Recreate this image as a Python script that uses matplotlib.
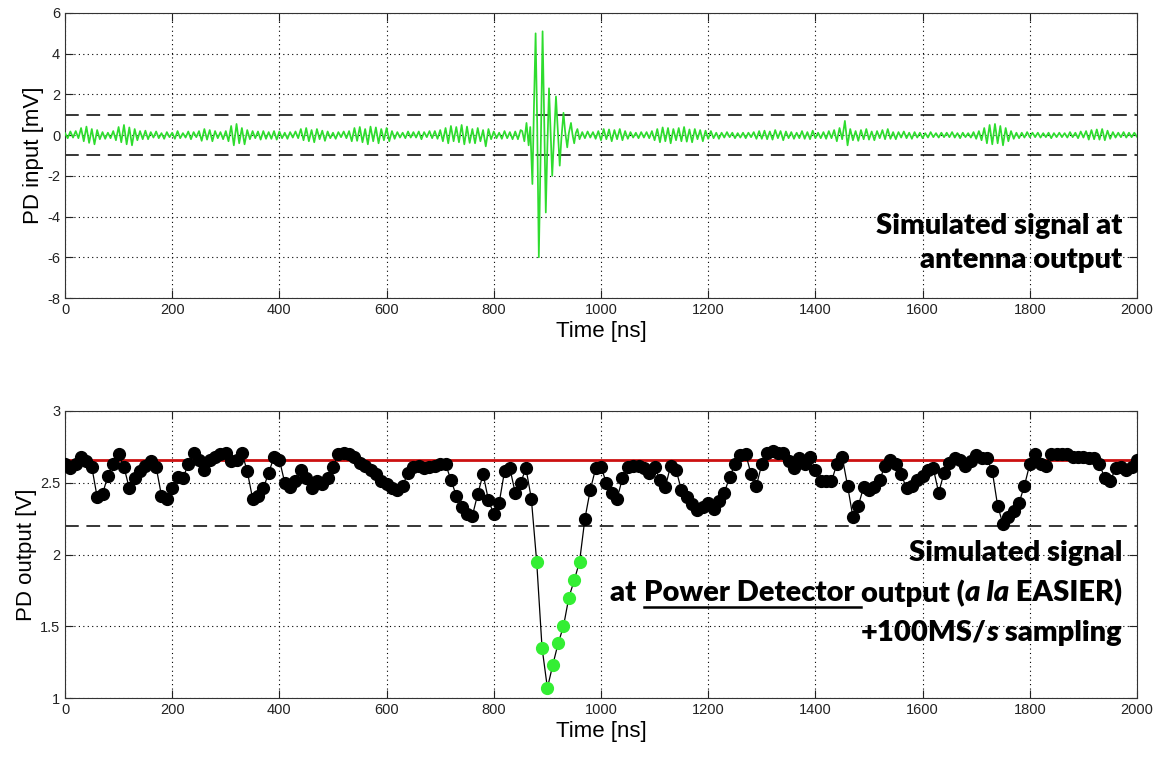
import matplotlib
matplotlib.use("Agg")
import matplotlib.pyplot as plt
from matplotlib.lines import Line2D
import numpy as np

plt.rcParams["axes.unicode_minus"] = False

# ---- top panel: simulated antenna signal (mV) ----
# background noise, 5 ns steps, 0..850 ns
noise_a = [0.1, -0.15, 0.18, -0.12, 0.2, -0.15, 0.35, -0.3, 0.42, -0.38,
           0.3, -0.45, 0.25, -0.2, 0.15, -0.18, 0.12, -0.15, 0.2, -0.25,
           0.4, -0.35, 0.5, -0.45, 0.38, -0.5, 0.3, -0.25, 0.2, -0.2,
           0.22, -0.2, 0.15, -0.12, 0.18, -0.15, 0.1, -0.18, 0.15, -0.1,
           0.12, -0.18, 0.2, -0.15, 0.1, -0.12, 0.18, -0.2, 0.15, -0.1,
           0.2, -0.28, 0.3, -0.22, 0.25, -0.3, 0.2, -0.15, 0.15, -0.2,
           0.2, -0.3, 0.45, -0.5, 0.55, -0.4, 0.35, -0.45, 0.25, -0.2,
           0.2, -0.15, 0.18, -0.22, 0.2, -0.18, 0.15, -0.18, 0.2, -0.22,
           0.18, -0.15, 0.12, -0.18, 0.15, -0.12, 0.18, -0.15, 0.3, -0.25,
           0.35, -0.3, 0.25, -0.35, 0.3, -0.2, 0.22, -0.28, 0.18, -0.15,
           0.12, -0.18, 0.15, -0.1, 0.18, -0.15, 0.2, -0.3, 0.35, -0.28,
           0.4, -0.35, 0.3, -0.45, 0.42, -0.3, 0.38, -0.4, 0.3, -0.25,
           0.35, -0.3, 0.2, -0.18, 0.15, -0.12, 0.12, -0.15, 0.18, -0.12,
           0.15, -0.12, 0.18, -0.2, 0.15, -0.1, 0.2, -0.15, 0.2, -0.18,
           0.25, -0.3, 0.35, -0.4, 0.45, -0.3, 0.4, -0.35, 0.5, -0.45,
           0.42, -0.38, 0.3, -0.4, 0.35, -0.3, 0.25, -0.55, 0.3, -0.2,
           0.18, -0.15, 0.12, -0.18, 0.2, -0.15, 0.15, -0.2, 0.18, -0.2,
           0.25]
# the pulse
burst_ns = [853, 857, 861, 865, 868, 872, 875, 878, 881, 884, 888, 891, 894,
            897, 900, 903, 906, 909, 912, 916, 919, 923, 926, 930, 933, 937,
            940, 944, 947, 950, 953, 956, 960]
burst_mv = [0.2, -0.3, 0.6, -0.5, 0.4, -2.4, 1.5, 5.0, 0.5, -6.0, 0.0, 5.1, 0.8,
            -3.8, -0.5, 2.3, 0.2, -2.0, -0.3, 1.9, 0.4, -1.5, -0.2, 1.1, 0.2, -0.6,
            0.1, 0.6, 0.0, -0.4, 0.1, 0.3, -0.2]
# background noise, 5 ns steps, 965..2000 ns
noise_b = [0.15, -0.15, 0.18, -0.12, 0.15, -0.18, 0.2, -0.25, 0.3, -0.2,
           0.28, -0.3, 0.25, -0.2, 0.3, -0.25, 0.2, -0.18, 0.15, -0.12,
           0.12, -0.15, 0.15, -0.12, 0.15, -0.15, 0.2, -0.25, 0.3, -0.35,
           0.38, -0.3, 0.35, -0.4, 0.3, -0.25, 0.35, -0.3, 0.4, -0.32,
           0.28, -0.35, 0.3, -0.2, 0.25, -0.3, 0.22, -0.18, 0.2, -0.15,
           0.12, -0.18, 0.12, -0.12, 0.15, -0.1, 0.12, -0.15, 0.1, -0.12,
           0.12, -0.15, 0.12, -0.1, 0.15, -0.18, 0.2, -0.18, 0.22, -0.2,
           0.18, -0.22, 0.25, -0.15, 0.2, -0.25, 0.18, -0.15, 0.15, -0.18,
           0.12, -0.15, 0.2, -0.18, 0.15, -0.2, 0.22, -0.15, 0.12, -0.15,
           0.15, -0.18, 0.2, -0.15, 0.25, -0.3, 0.35, -0.2, 0.7, -0.5,
           0.3, -0.25, 0.2, -0.28, 0.25, -0.2, 0.3, -0.22, 0.18, -0.25,
           0.2, -0.15, 0.25, -0.2, 0.3, -0.18, 0.15, -0.2, 0.15, -0.12,
           0.18, -0.15, 0.12, -0.18, 0.15, -0.12, 0.12, -0.15, 0.1, -0.12,
           0.15, -0.1, 0.1, -0.12, 0.12, -0.1, 0.12, -0.1, 0.15, -0.12,
           0.1, -0.15, 0.12, -0.1, 0.1, -0.12, 0.15, -0.18, 0.2, -0.25,
           0.35, -0.4, 0.5, -0.45, 0.55, -0.4, 0.45, -0.5, 0.35, -0.3,
           0.2, -0.18, 0.12, -0.15, 0.12, -0.12, 0.15, -0.1, 0.12, -0.1,
           0.12, -0.12, 0.1, -0.1, 0.12, -0.15, 0.1, -0.1, 0.12, -0.1,
           0.1, -0.12, 0.15, -0.1, 0.12, -0.15, 0.18, -0.12, 0.2, -0.22,
           0.25, -0.2, 0.28, -0.22, 0.3, -0.25, 0.22, -0.18, 0.15, -0.12,
           0.12, -0.1, 0.15, -0.12, 0.12, -0.1, 0.12, -0.08]
input_threshold = 1.0   # dashed lines at +/- this

# ---- bottom panel: power detector output sampled every 10 ns (V) ----
pd_out = [2.63, 2.60, 2.63, 2.68, 2.65, 2.61, 2.40, 2.42, 2.55, 2.63,
          2.70, 2.61, 2.46, 2.53, 2.58, 2.62, 2.65, 2.61, 2.41, 2.39,
          2.46, 2.54, 2.53, 2.63, 2.71, 2.66, 2.59, 2.66, 2.68, 2.70,
          2.71, 2.65, 2.66, 2.71, 2.58, 2.39, 2.41, 2.46, 2.57, 2.68,
          2.66, 2.50, 2.47, 2.51, 2.59, 2.53, 2.46, 2.51, 2.49, 2.53,
          2.61, 2.70, 2.71, 2.70, 2.68, 2.64, 2.62, 2.59, 2.56, 2.51,
          2.49, 2.46, 2.45, 2.48, 2.57, 2.61, 2.62, 2.60, 2.61, 2.62,
          2.63, 2.63, 2.52, 2.41, 2.33, 2.28, 2.27, 2.42, 2.56, 2.38,
          2.28, 2.36, 2.58, 2.60, 2.43, 2.50, 2.60, 2.39, 1.95, 1.35,
          1.07, 1.23, 1.38, 1.50, 1.70, 1.82, 1.95, 2.25, 2.45, 2.60,
          2.61, 2.50, 2.43, 2.39, 2.53, 2.61, 2.62, 2.62, 2.60, 2.57,
          2.61, 2.52, 2.47, 2.62, 2.59, 2.45, 2.40, 2.35, 2.31, 2.33,
          2.36, 2.32, 2.37, 2.43, 2.54, 2.63, 2.69, 2.70, 2.56, 2.48,
          2.63, 2.71, 2.72, 2.71, 2.71, 2.65, 2.60, 2.67, 2.63, 2.68,
          2.59, 2.51, 2.51, 2.51, 2.63, 2.68, 2.48, 2.26, 2.34, 2.47,
          2.45, 2.47, 2.52, 2.62, 2.66, 2.63, 2.56, 2.46, 2.48, 2.52,
          2.55, 2.59, 2.60, 2.43, 2.57, 2.64, 2.67, 2.66, 2.62, 2.65,
          2.69, 2.67, 2.67, 2.58, 2.34, 2.21, 2.26, 2.30, 2.36, 2.48,
          2.63, 2.70, 2.63, 2.62, 2.70, 2.70, 2.70, 2.70, 2.68, 2.68,
          2.68, 2.67, 2.67, 2.63, 2.53, 2.51, 2.60, 2.61, 2.59, 2.61,
          2.66]
baseline_v = 2.66
threshold_v = 2.2

top_label_lines = ["Simulated signal at", "antenna output"]

TICK_FONT = "Liberation Sans"
NOTE_FONT = "Lato"

W, H = 1157, 757
fig = plt.figure(figsize=(W / 100, H / 100), dpi=100)
fig.patch.set_facecolor("white")


def px_axes(left, top, right, bottom):
    return fig.add_axes([left / W, 1 - bottom / H, (right - left) / W, (bottom - top) / H])


def style_axes(ax):
    ax.grid(True, linestyle=(0, (1, 3)), color="black", linewidth=0.8)
    ax.tick_params(direction="in", length=6, width=0.8, labelsize=10.5, colors="#222222")
    for lab in ax.get_xticklabels() + ax.get_yticklabels():
        lab.set_family(TICK_FONT)
    for s in ax.spines.values():
        s.set_linewidth(0.8)
        s.set_color("#333333")
    ax.tick_params(top=True, right=True)
    ax.set_xlim(0, 2000)
    ax.set_xticks(np.arange(0, 2001, 200))
    ax.set_xlabel("Time [ns]", fontsize=16, family=TICK_FONT, labelpad=3)


# ---- top axes ----
ax1 = px_axes(65, 13, 1137, 298)
t_a = np.arange(len(noise_a)) * 5
t_b = 965 + np.arange(len(noise_b)) * 5
t_all = np.concatenate([t_a, burst_ns, t_b])
v_all = np.concatenate([noise_a, burst_mv, noise_b])
ax1.plot(t_all, v_all, color="#2edc2e", linewidth=1.25, zorder=3)
ax1.axhline(input_threshold, color="black", linestyle=(0, (9, 5)), linewidth=1.1, zorder=2)
ax1.axhline(-input_threshold, color="black", linestyle=(0, (9, 5)), linewidth=1.1, zorder=2)
ax1.set_ylim(-8, 6)
ax1.set_yticks(np.arange(-8, 7, 2))
style_axes(ax1)
ax1.set_ylabel("PD input [mV]", fontsize=16, family=TICK_FONT, labelpad=2)

# ---- bottom axes ----
ax2 = px_axes(65, 411, 1137, 698)
pd_ns = np.arange(len(pd_out)) * 10
pd_arr = np.array(pd_out)
ax2.plot(pd_ns, pd_arr, color="black", linewidth=0.9, zorder=3)
ax2.axhline(baseline_v, color="#cc1111", linewidth=2.0, zorder=2)
ax2.axhline(threshold_v, color="black", linestyle=(0, (9, 5)), linewidth=1.1, zorder=2)
below = pd_arr < threshold_v
ax2.plot(pd_ns[~below], pd_arr[~below], "o", color="black", markersize=8.5, zorder=4)
ax2.plot(pd_ns[below], pd_arr[below], "o", color="#33ee33", markersize=8.5, zorder=4)
ax2.set_ylim(1, 3)
ax2.set_yticks([1, 1.5, 2, 2.5, 3])
ax2.set_yticklabels(["1", "1.5", "2", "2.5", "3"])
style_axes(ax2)
ax2.set_ylabel("PD output [V]", fontsize=16, family=TICK_FONT, labelpad=2)

# ---- annotations (right aligned, mixed styles) ----
renderer = fig.canvas.get_renderer()
NOTE_SIZE = 21


def rich_line(pieces, right_px, y_px):
    texts = []
    for s, style, ul in pieces:
        t = fig.text(0, 0, s, fontsize=NOTE_SIZE, fontweight="heavy", fontstyle=style,
                     family=NOTE_FONT, va="center", ha="left", color="black")
        texts.append(t)
    widths = [t.get_window_extent(renderer).width for t in texts]
    x = right_px - sum(widths)
    for t, w, (s, style, ul) in zip(texts, widths, pieces):
        t.set_position((x / W, 1 - y_px / H))
        if ul:
            yl = 1 - (y_px + 14) / H
            fig.add_artist(Line2D([x / W, (x + w) / W], [yl, yl], color="black",
                                  linewidth=1.8, transform=fig.transFigure))
        x += w


rich_line([(top_label_lines[0], "normal", False)], 1122, 226)
rich_line([(top_label_lines[1], "normal", False)], 1122, 260)

rich_line([("Simulated signal", "normal", False)], 1122, 553)
rich_line([("at ", "normal", False), ("Power Detector ", "normal", True),
           ("output (", "normal", False), ("a la", "italic", False),
           (" EASIER)", "normal", False)], 1122, 593)
rich_line([("+100MS/", "normal", False), ("s", "italic", False),
           (" sampling", "normal", False)], 1122, 633)

fig.savefig("out.png", dpi=100, facecolor="white")
